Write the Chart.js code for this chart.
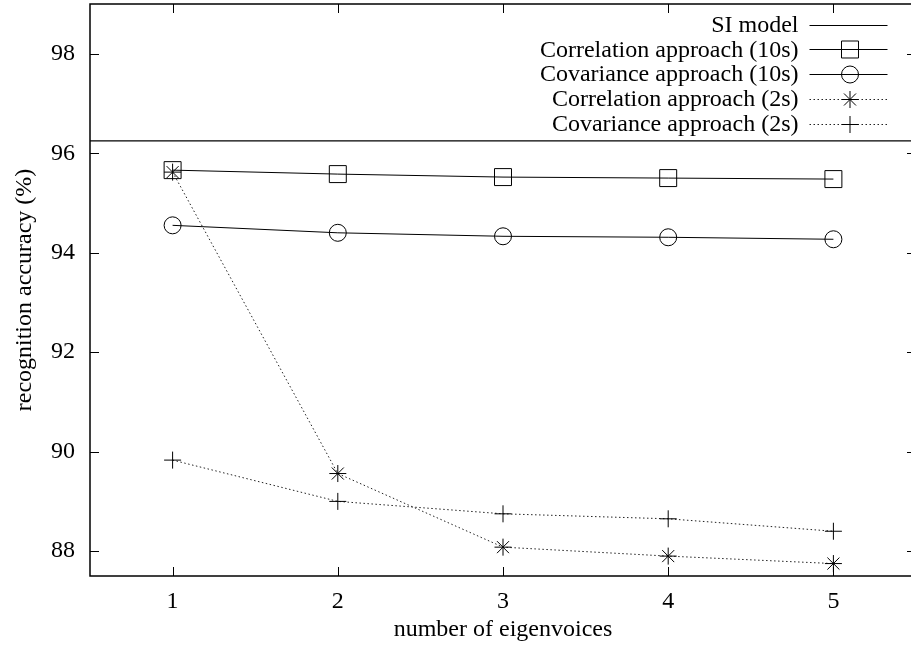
<!DOCTYPE html>
<html><head><meta charset="utf-8">
<script src="https://cdn.jsdelivr.net/npm/chart.js@4/dist/chart.umd.min.js"></script>
<style>
html,body{margin:0;padding:0;background:#fff;overflow:hidden;}
#wrap{position:relative;width:916px;height:655px;}
</style></head><body>
<div id="wrap"><canvas id="c" width="916" height="655"></canvas></div>
<script>
// Recognition accuracy vs. number of eigenvoices
const eigenvoices = [1, 2, 3, 4, 5];
const siModel = 96.25;
const corr10s = [95.66, 95.58, 95.52, 95.50, 95.48];
const cov10s  = [94.55, 94.40, 94.33, 94.31, 94.27];
const corr2s  = [95.62, 89.56, 88.08, 87.90, 87.75];
const cov2s   = [89.83, 89.00, 88.75, 88.65, 88.40];
const xTicks = [1, 2, 3, 4, 5];
const yTicks = [88, 90, 92, 94, 96, 98];
const xRange = [0.5, 5.5];
const yRange = [87.5, 99];
const seriesNames = [
  'SI model',
  'Correlation approach (10s)',
  'Covariance approach (10s)',
  'Correlation approach (2s)',
  'Covariance approach (2s)'
];

const FONT = '"Liberation Serif", "Times New Roman", serif';
const pts = ys => eigenvoices.map((x, i) => ({ x, y: ys[i] }));
const DOT = [1.5, 2.5];

function series(label, ys, style, radius, dashed) {
  return {
    label, data: pts(ys),
    borderColor: dashed ? '#222' : '#000',
    borderWidth: 1,
    borderDash: dashed ? DOT : [],
    pointStyle: style, pointRadius: radius,
    pointBorderColor: '#000', pointBackgroundColor: 'rgba(0,0,0,0)',
    pointBorderWidth: 1, tension: 0
  };
}

const datasets = [
  { label: seriesNames[0],
    data: [{ x: xRange[0], y: siModel }, { x: xRange[1], y: siModel }],
    borderColor: '#000', borderWidth: 1.2, pointRadius: 0, pointStyle: false },
  series(seriesNames[1], corr10s, 'rect', 12, false),
  series(seriesNames[2], cov10s, 'circle', 8.5, false),
  series(seriesNames[3], corr2s, 'star', 8.5, true),
  series(seriesNames[4], cov2s, 'cross', 8.5, true)
];

// Frame with inward ticks on all four sides
const framePlugin = {
  id: 'frame',
  afterDraw(chart) {
    const { ctx, chartArea: a, scales: { x, y } } = chart;
    const L = 9;
    ctx.save();
    ctx.strokeStyle = '#000';
    ctx.lineWidth = 1;
    ctx.beginPath();
    x.ticks.forEach(t => {
      const px = Math.round(x.getPixelForValue(t.value)) + 0.5;
      ctx.moveTo(px, a.bottom); ctx.lineTo(px, a.bottom - L);
      ctx.moveTo(px, a.top); ctx.lineTo(px, a.top + L);
    });
    y.ticks.forEach(t => {
      const py = Math.round(y.getPixelForValue(t.value)) + 0.5;
      ctx.moveTo(a.left, py); ctx.lineTo(a.left + L, py);
      ctx.moveTo(a.right, py); ctx.lineTo(a.right - L, py);
    });
    ctx.stroke();
    ctx.lineWidth = 1.5;
    ctx.strokeRect(a.left, a.top, a.right - a.left, a.bottom - a.top);
    ctx.restore();
  }
};

// Key in the upper right: right-aligned text, then a line sample with its marker
const keyPlugin = {
  id: 'key',
  afterDatasetsDraw(chart) {
    const { ctx, chartArea: a } = chart;
    ctx.save();
    ctx.font = '24px ' + FONT;
    ctx.textAlign = 'right';
    ctx.textBaseline = 'middle';
    chart.data.datasets.forEach((ds, i) => {
      const yy = a.top + 20.5 + i * 24.8;
      ctx.fillStyle = '#000';
      ctx.fillText(ds.label, a.right - 117.5, yy + 1);
      const x0 = a.right - 106.5, x1 = a.right - 28.5, xm = a.right - 66;
      ctx.strokeStyle = ds.borderColor;
      ctx.lineWidth = 1;
      ctx.setLineDash(ds.borderDash || []);
      ctx.beginPath();
      ctx.moveTo(x0, Math.round(yy) + 0.5); ctx.lineTo(x1, Math.round(yy) + 0.5);
      ctx.stroke();
      ctx.setLineDash([]);
      if (ds.pointStyle) {
        ctx.strokeStyle = '#000';
        ctx.fillStyle = 'rgba(0,0,0,0)';
        Chart.helpers.drawPoint(ctx, {
          pointStyle: ds.pointStyle, radius: ds.pointRadius, rotation: 0, borderWidth: 1
        }, xm, Math.round(yy) + 0.5);
      }
    });
    ctx.restore();
  }
};

const noPad = s => { s.paddingTop = 0; s.paddingBottom = 0; s.paddingLeft = 0; s.paddingRight = 0; };

new Chart(document.getElementById('c'), {
  type: 'line',
  data: { datasets },
  options: {
    responsive: false, devicePixelRatio: 1, animation: false,
    layout: { autoPadding: false, padding: { top: 4, right: 0, left: 0, bottom: 0 } },
    plugins: { legend: { display: false }, tooltip: { enabled: false } },
    scales: {
      x: {
        type: 'linear', min: xRange[0], max: xRange[1],
        afterBuildTicks: s => { s.ticks = xTicks.map(v => ({ value: v })); },
        afterFit: s => { s.height = 79; noPad(s); },
        grid: { display: false, drawTicks: false }, border: { display: false },
        ticks: { color: '#000', padding: 11, font: { family: FONT, size: 24 } },
        title: { display: true, text: 'number of eigenvoices', color: '#000',
                 font: { family: FONT, size: 24 }, padding: { top: 0, bottom: 11 } }
      },
      y: {
        type: 'linear', min: yRange[0], max: yRange[1],
        afterBuildTicks: s => { s.ticks = yTicks.map(v => ({ value: v })); },
        afterFit: s => { s.width = 90; noPad(s); },
        grid: { display: false, drawTicks: false }, border: { display: false },
        ticks: { color: '#000', padding: 15, font: { family: FONT, size: 24 } },
        title: { display: true, text: 'recognition accuracy (%)', color: '#000',
                 font: { family: FONT, size: 24 }, padding: { top: 10, bottom: 0 } }
      }
    }
  },
  plugins: [framePlugin, keyPlugin]
});
</script>
</body></html>
